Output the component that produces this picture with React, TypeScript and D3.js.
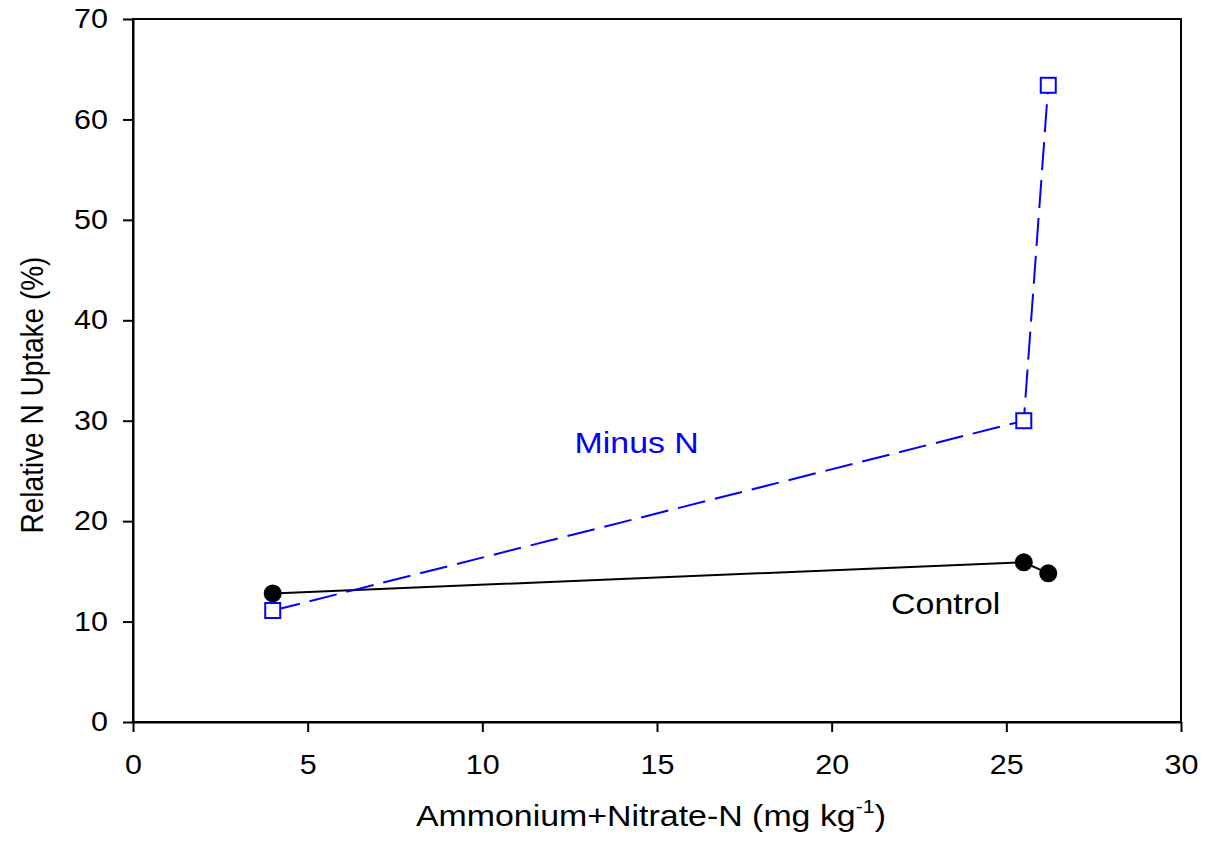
import { useEffect, useRef } from 'react';
import * as d3 from 'd3';

const xTicks = [0, 5, 10, 15, 20, 25, 30];
const yTicks = [0, 10, 20, 30, 40, 50, 60, 70];

const controlX = [4, 25.5, 26.2];
const controlY = [12.8, 15.9, 14.8];
const minusNX = [4, 25.5, 26.2];
const minusNY = [11.1, 30, 63.4];

const FONT = '"Liberation Sans", Arial, sans-serif';
// the original picture is a bit wider than tall, text is stretched
const SX = 1.13;

const App = () => {
  const svgRef = useRef<SVGSVGElement>(null);

  useEffect(() => {
    document.body.style.margin = '0';

    const width = 1206;
    const height = 848;
    const margin = { top: 19, right: 25, bottom: 126, left: 133 };
    const innerWidth = width - margin.left - margin.right;
    const innerHeight = height - margin.top - margin.bottom;

    const svg = d3.select(svgRef.current);
    svg.selectAll('*').remove();
    svg.attr('width', width).attr('height', height);

    const chart = svg.append('g')
      .attr('transform', `translate(${margin.left},${margin.top})`);

    // Scales
    const x = d3.scaleLinear().domain([0, 30]).range([0, innerWidth]);
    const y = d3.scaleLinear().domain([0, 70]).range([innerHeight, 0]);

    // frame
    chart.append('rect')
      .attr('x', 0).attr('y', 0)
      .attr('width', innerWidth).attr('height', innerHeight)
      .attr('fill', 'none')
      .attr('stroke', '#000')
      .attr('stroke-width', 2);

    // X Axis
    const xAxis = chart.append('g')
      .attr('transform', `translate(0, ${innerHeight})`)
      .call(d3.axisBottom(x).tickValues(xTicks).tickSize(10).tickPadding(23).tickSizeOuter(0));
    xAxis.select('.domain').attr('stroke-width', 2);
    xAxis.selectAll('line').attr('stroke-width', 2);
    xAxis.selectAll('text')
      .attr('transform', `scale(${SX},1)`)
      .style('font-size', '27px')
      .style('font-family', FONT);

    // Y Axis
    const yAxis = chart.append('g')
      .call(d3.axisLeft(y).tickValues(yTicks).tickSize(10).tickPadding(15).tickSizeOuter(0));
    yAxis.select('.domain').attr('stroke-width', 2);
    yAxis.selectAll('line').attr('stroke-width', 2);
    yAxis.selectAll('text')
      .attr('x', -25 / SX)
      .attr('transform', `scale(${SX},1)`)
      .style('font-size', '27px')
      .style('font-family', FONT);

    const line = d3.line<[number, number]>()
      .x(d => x(d[0]))
      .y(d => y(d[1]));

    const ctrl = controlX.map((v, i) => [v, controlY[i]] as [number, number]);
    const mn = minusNX.map((v, i) => [v, minusNY[i]] as [number, number]);

    // Control line
    chart.append('path')
      .attr('d', line(ctrl))
      .attr('fill', 'none')
      .attr('stroke', '#000')
      .attr('stroke-width', 2);

    // Minus N line
    chart.append('path')
      .attr('d', line(mn))
      .attr('fill', 'none')
      .attr('stroke', '#0000ff')
      .attr('stroke-width', 2)
      .attr('stroke-dasharray', '28,10');

    // markers
    chart.selectAll('.ctrl')
      .data(ctrl)
      .enter()
      .append('circle')
      .attr('cx', d => x(d[0]))
      .attr('cy', d => y(d[1]))
      .attr('r', 9)
      .attr('fill', '#000');

    chart.selectAll('.mn')
      .data(mn)
      .enter()
      .append('rect')
      .attr('x', d => x(d[0]) - 7.5)
      .attr('y', d => y(d[1]) - 7.5)
      .attr('width', 15)
      .attr('height', 15)
      .attr('fill', '#fff')
      .attr('stroke', '#0000ff')
      .attr('stroke-width', 2);

    // labels
    chart.append('text')
      .attr('transform', `translate(${x(12.64)},${y(26.83)}) scale(${SX},1)`)
      .attr('fill', '#0000ff')
      .style('font-family', FONT)
      .style('font-size', '30px')
      .text('Minus N');

    chart.append('text')
      .attr('transform', `translate(${x(21.7)},${y(10.75)}) scale(${SX},1)`)
      .attr('fill', '#000')
      .style('font-family', FONT)
      .style('font-size', '30px')
      .text('Control');

    const xl = svg.append('text')
      .attr('transform', `translate(651,826) scale(${SX},1)`)
      .attr('text-anchor', 'middle')
      .style('font-family', FONT)
      .style('font-size', '30px');
    xl.append('tspan').text('Ammonium+Nitrate-N (mg kg');
    xl.append('tspan').attr('dy', -13).style('font-size', '19px').text('-1');
    xl.append('tspan').attr('dy', 13).text(')');

    svg.append('text')
      .attr('transform', `translate(43,395) rotate(-90) scale(1,${SX})`)
      .attr('text-anchor', 'middle')
      .style('font-family', FONT)
      .style('font-size', '28px')
      .text('Relative N Uptake (%)');
  }, []);

  return <svg ref={svgRef} style={{ display: 'block' }}></svg>;
};

export default App;
